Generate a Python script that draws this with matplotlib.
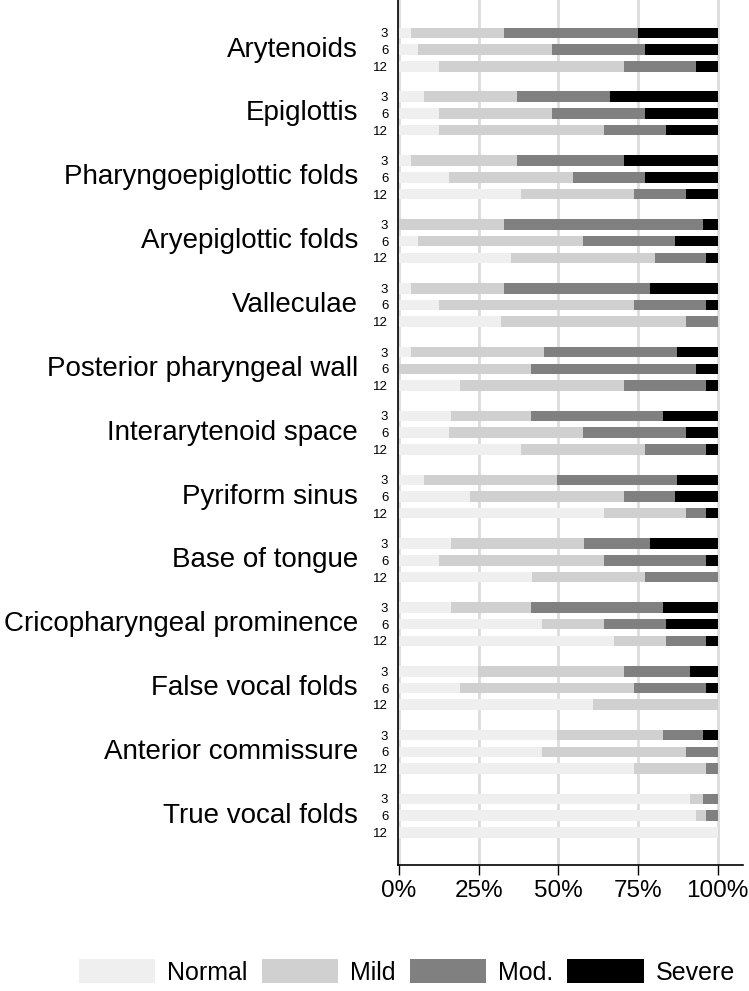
import matplotlib.pyplot as plt
import matplotlib.transforms as mtransforms
from matplotlib.patches import Patch

plt.rcParams['font.family'] = ['Liberation Sans', 'DejaVu Sans']

# Structures and follow-up months
regions = ['Arytenoids', 'Epiglottis', 'Pharyngoepiglottic folds',
           'Aryepiglottic folds', 'Valleculae', 'Posterior pharyngeal wall',
           'Interarytenoid space', 'Pyriform sinus', 'Base of tongue',
           'Cricopharyngeal prominence', 'False vocal folds',
           'Anterior commissure', 'True vocal folds']
months = ['3', '6', '12']

# Percent of patients per grade, rows ordered region by region (3, 6, 12)
normal = [3.9, 6.1, 12.6,   8.0, 12.6, 12.6,   3.9, 15.8, 38.4,
          0.0, 6.1, 35.1,   3.9, 12.6, 31.9,   3.9, 0.0, 19.1,
          16.3, 15.8, 38.4, 8.0, 22.2, 64.3,   16.3, 12.6, 41.7,
          16.3, 44.9, 67.5, 24.7, 19.1, 61.0,  49.7, 44.9, 73.9,
          91.5, 93.4, 100.0]
mild = [29.1, 42.0, 58.1,  29.2, 35.5, 51.7,  33.3, 38.8, 35.5,
        33.0, 51.7, 45.4,  29.1, 61.3, 58.2,  41.6, 41.6, 51.6,
        25.1, 42.0, 38.8,  41.7, 48.5, 25.8,  41.7, 51.7, 35.5,
        25.1, 19.4, 16.2,  46.0, 54.8, 39.0,  33.3, 45.2, 22.6,
        4.1, 3.1, 0.0]
moderate = [41.9, 29.1, 22.7,  29.2, 29.1, 19.4,  33.4, 22.6, 16.2,
            62.6, 29.0, 16.0,  45.8, 22.6, 9.9,   41.8, 51.8, 25.8,
            41.6, 32.3, 19.3,  37.6, 16.1, 6.4,   20.8, 32.2, 22.8,
            41.6, 19.4, 12.8,  20.8, 22.6, 0.0,   12.6, 9.9, 3.5,
            4.4, 3.5, 0.0]
severe = [25.1, 22.8, 6.6,  33.6, 22.8, 16.3,  29.4, 22.8, 9.9,
          4.4, 13.2, 3.5,   21.2, 3.5, 0.0,    12.7, 6.6, 3.5,
          17.0, 9.9, 3.5,   12.7, 13.2, 3.5,   21.2, 3.5, 0.0,
          17.0, 16.3, 3.5,  8.5, 3.5, 0.0,     4.4, 0.0, 0.0,
          0.0, 0.0, 0.0]

grades = ['Normal', 'Mild', 'Mod.', 'Severe']
colors = ['#efefef', '#d0d0d0', '#808080', '#000000']

pitch = 3.82
ypos = [g * pitch + r for g in range(len(regions)) for r in range(len(months))]

fig = plt.figure(figsize=(7.49, 9.91), dpi=100)
ax = fig.add_axes([398 / 749, 126 / 991, 345 / 749, 865 / 991])

left = [0.0] * len(ypos)
for vals, col in zip([normal, mild, moderate, severe], colors):
    ax.barh(ypos, vals, left=left, height=0.63, color=col, linewidth=0, zorder=2)
    left = [a + b for a, b in zip(left, vals)]

ax.set_xlim(-0.3, 108)
ax.set_ylim((len(regions) - 1) * pitch + 2 + 1.95, -1.97)

ax.set_xticks([0, 25, 50, 75, 100])
ax.set_xticklabels(['0%', '25%', '50%', '75%', '100%'], fontsize=17.5)
ax.tick_params(axis='x', length=7, width=1, pad=4)
ax.grid(axis='x', color='#dcdcdc', linewidth=2, zorder=0)

ax.set_yticks(ypos)
ax.set_yticklabels(months * len(regions), fontsize=9.5)
ax.tick_params(axis='y', length=0, pad=7)

for s in ['top', 'right']:
    ax.spines[s].set_visible(False)
for s in ['left', 'bottom']:
    ax.spines[s].set_linewidth(1.2)

# Region names, centred on the middle row of each group
trans = mtransforms.blended_transform_factory(fig.transFigure, ax.transData)
for g, name in enumerate(regions):
    fig.text(358 / 749, g * pitch + 1, name, transform=trans, ha='right',
             va='center', fontsize=20)

handles = [Patch(facecolor=c, edgecolor='none', label=l) for c, l in zip(colors, grades)]
fig.legend(handles=handles, loc='center', bbox_to_anchor=(407 / 749, 1 - 972 / 991),
           ncol=4, frameon=False, fontsize=18, handlelength=3.05,
           handleheight=1.05, handletextpad=0.5, columnspacing=0.55)

fig.savefig('out.png', dpi=100)
